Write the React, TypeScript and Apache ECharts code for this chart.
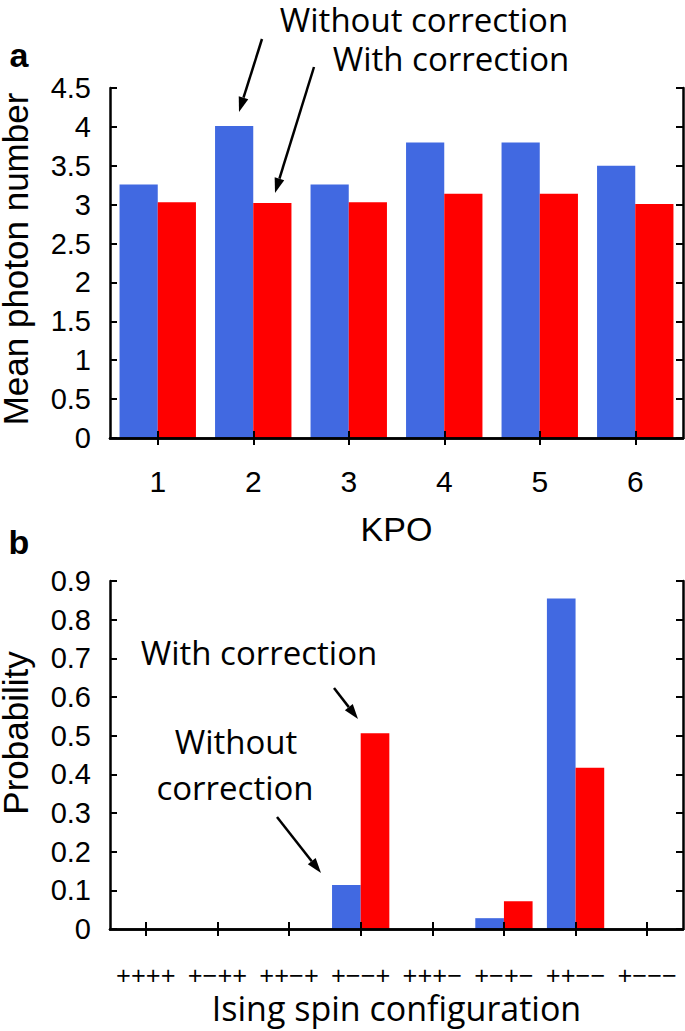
import React, { useEffect, useRef } from "react";
import * as echarts from "echarts";

const kpoCategories = ["1", "2", "3", "4", "5", "6"];
const photonWithout = [3.26, 4.01, 3.26, 3.8, 3.8, 3.5];
const photonWith = [3.03, 3.02, 3.03, 3.14, 3.14, 3.01];

const spinConfigs = ["++++", "+\u2212++", "++\u2212+", "+\u2212\u2212+", "+++\u2212", "+\u2212+\u2212", "++\u2212\u2212", "+\u2212\u2212\u2212"];
const probWithout = [0, 0, 0, 0.114, 0, 0.028, 0.855, 0];
const probWith = [0, 0, 0, 0.506, 0, 0.072, 0.417, 0];

const BLUE = "#4169E1";
const RED = "#FF0000";
const ARIAL = "Liberation Sans, Arial, sans-serif";
const SEGOE = "Open Sans, Noto Sans, sans-serif";

function arrow(x1: number, y1: number, x2: number, y2: number) {
  const ang = Math.atan2(y2 - y1, x2 - x1);
  const L = 15;
  const W = 5;
  const c = Math.cos(ang);
  const s = Math.sin(ang);
  const bx = x2 - L * c;
  const by = y2 - L * s;
  return [
    { type: "line", shape: { x1, y1, x2: bx, y2: by }, style: { stroke: "#000", lineWidth: 2.5 }, z: 10 },
    {
      type: "polygon",
      shape: { points: [[x2, y2], [bx + W * s, by - W * c], [bx - W * s, by + W * c]] },
      style: { fill: "#000" },
      z: 10,
    },
  ];
}

function txt(text: string, x: number, y: number, size: number, extra: any = {}) {
  return {
    type: "text",
    x,
    y,
    z: 10,
    style: {
      text,
      fontFamily: SEGOE,
      fontSize: size,
      lineHeight: Math.round(size * 0.9),
      fill: "#000",
      align: "center",
      verticalAlign: "middle",
      ...extra,
    },
  };
}

const axisLineStyle = { show: true, lineStyle: { color: "#000", width: 2.5 } };
const tickStyle = { show: true, inside: true, length: 7, lineStyle: { color: "#000", width: 2 } };

function valueAxes(gridIndex: number, max: number, interval: number, name: string, nameGap: number, namePadding: number[]) {
  return [
    {
      type: "value",
      gridIndex,
      position: "left",
      min: 0,
      max,
      interval,
      z: 5,
      name,
      nameLocation: "middle",
      nameGap,
      nameTextStyle: { fontFamily: ARIAL, fontSize: 35, color: "#000", padding: namePadding },
      axisLine: axisLineStyle,
      axisTick: tickStyle,
      splitLine: { show: false },
      axisLabel: { fontFamily: ARIAL, fontSize: 29, color: "#000", margin: 19 },
    },
    {
      type: "value",
      gridIndex,
      position: "right",
      min: 0,
      max,
      interval,
      z: 5,
      axisLine: axisLineStyle,
      axisTick: tickStyle,
      splitLine: { show: false },
      axisLabel: { show: false },
    },
  ];
}

function catAxes(gridIndex: number, data: string[], labelFont: any, margin: number, name: string, nameFont: any, nameGap: number) {
  return [
    {
      type: "category",
      gridIndex,
      position: "bottom",
      data,
      z: 5,
      name,
      nameLocation: "middle",
      nameGap,
      nameTextStyle: nameFont,
      axisLine: axisLineStyle,
      axisTick: { ...tickStyle, alignWithLabel: true },
      axisLabel: { ...labelFont, color: "#000", margin, interval: 0 },
    },
    {
      type: "category",
      gridIndex,
      position: "top",
      data,
      z: 5,
      axisLine: axisLineStyle,
      axisTick: { ...tickStyle, alignWithLabel: true },
      axisLabel: { show: false },
    },
  ];
}

export default function App() {
  const ref = useRef<HTMLDivElement>(null);
  useEffect(() => {
    document.body.style.margin = "0";
    const chart = echarts.init(ref.current!, null, { renderer: "svg" });
    const option: any = {
      animation: false,
      backgroundColor: "#fff",
      grid: [
        { left: 110, top: 88, width: 573, height: 350, outerBoundsMode: "none", containLabel: false },
        { left: 110, top: 581, width: 573, height: 348, outerBoundsMode: "none", containLabel: false },
      ],
      xAxis: [
        ...catAxes(0, kpoCategories, { fontFamily: ARIAL, fontSize: 30 }, 28, "KPO", { fontFamily: ARIAL, fontSize: 34, color: "#000" }, 74),
        ...catAxes(1, spinConfigs, { fontFamily: SEGOE, fontSize: 26, lineHeight: 22 }, 35, "Ising spin configuration", { fontFamily: SEGOE, fontSize: 34, lineHeight: 30, color: "#000" }, 64),
      ],
      yAxis: [
        ...valueAxes(0, 4.5, 0.5, "Mean photon number", 77, [0, 0, 0, 8]),
        ...valueAxes(1, 0.9, 0.1, "Probability", 77, [0, 0, 0, 44]),
      ],
      series: [
        { type: "bar", name: "Without correction", xAxisIndex: 0, yAxisIndex: 0, data: photonWithout, itemStyle: { color: BLUE }, barGap: "0%", barCategoryGap: "20%" },
        { type: "bar", name: "With correction", xAxisIndex: 0, yAxisIndex: 0, data: photonWith, itemStyle: { color: RED }, barGap: "0%", barCategoryGap: "20%" },
        { type: "bar", name: "Without correction", xAxisIndex: 2, yAxisIndex: 2, data: probWithout, itemStyle: { color: BLUE }, barGap: "0%", barCategoryGap: "20%" },
        { type: "bar", name: "With correction", xAxisIndex: 2, yAxisIndex: 2, data: probWith, itemStyle: { color: RED }, barGap: "0%", barCategoryGap: "20%" },
      ],
      graphic: [
        txt("a", 19, 55, 34, { fontFamily: ARIAL, fontWeight: "bold" }),
        txt("b", 19, 542, 34, { fontFamily: ARIAL, fontWeight: "bold" }),
        txt("Without correction", 424, 19, 33),
        txt("With correction", 451, 58, 33),
        ...arrow(262, 39, 239, 112),
        ...arrow(314, 67, 275, 193),
        txt("With correction", 259, 652, 33),
        ...arrow(334, 688, 358, 719),
        txt("Without", 236, 741, 33),
        txt("correction", 235, 787, 33),
        ...arrow(277, 817, 321, 873),
      ],
    };
    chart.setOption(option);
    return () => chart.dispose();
  }, []);
  return <div ref={ref} style={{ width: 685, height: 1031 }} />;
}
